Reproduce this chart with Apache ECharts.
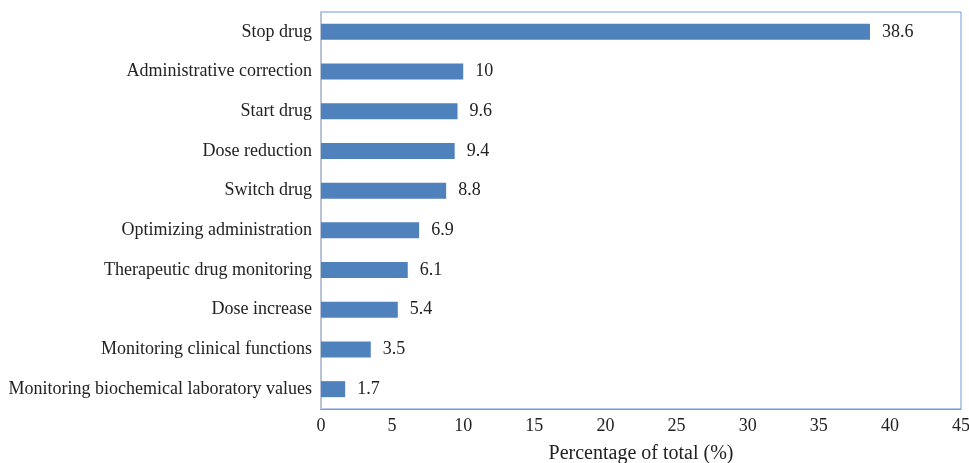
<!DOCTYPE html>
<html><head><meta charset="utf-8">
<script src="https://cdn.jsdelivr.net/npm/echarts@6/dist/echarts.min.js"></script>
<style>html,body{margin:0;padding:0;background:#fff}#c{width:969px;height:463px}</style>
</head><body><div id="c"></div>
<script>
const categories = ["Monitoring biochemical laboratory values","Monitoring clinical functions","Dose increase","Therapeutic drug monitoring","Optimizing administration","Switch drug","Dose reduction","Start drug","Administrative correction","Stop drug"];
const values = [1.7,3.5,5.4,6.1,6.9,8.8,9.4,9.6,10,38.6];
const xTitle = "Percentage of total (%)";
const font = "'Liberation Serif','Times New Roman',serif";
const chart = echarts.init(document.getElementById('c'));
chart.setOption({
  animation:false,
  grid:{left:321,right:8,top:12,bottom:54,show:true,borderColor:'#6f9bd8',borderWidth:1,containLabel:false,outerBoundsMode:'none'},
  xAxis:{type:'value',min:0,max:45,interval:5,
    name:xTitle,nameLocation:'middle',nameGap:35,nameTextStyle:{fontFamily:font,fontSize:20,color:'#222'},
    axisLine:{show:true,lineStyle:{color:'#6f9bd8'}},axisTick:{show:false},splitLine:{show:false},
    axisLabel:{fontFamily:font,fontSize:18,color:'#222',margin:8}},
  yAxis:{type:'category',data:categories,
    axisLine:{show:true,lineStyle:{color:'#b8c4d6',width:2}},axisTick:{show:false},
    axisLabel:{fontFamily:font,fontSize:18,color:'#222',margin:9}},
  series:[{type:'bar',data:values,barWidth:16,itemStyle:{color:'#4f81bd'},
    label:{show:true,position:'right',distance:12,fontFamily:font,fontSize:18,color:'#222'}}]
});
</script></body></html>
